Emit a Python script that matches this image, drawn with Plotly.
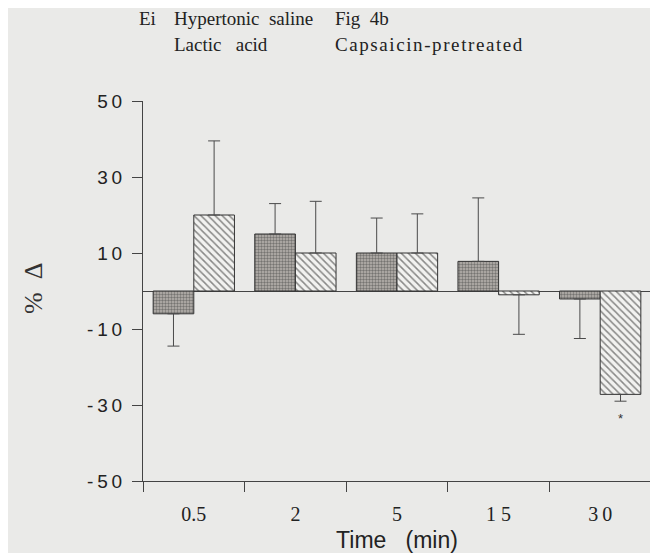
import plotly.graph_objects as go

categories = ["0.5", "2", "5", "15", "30"]
lactic_mean = [-6.0, 15.0, 10.0, 7.8, -2.1]
lactic_err = [8.5, 8.0, 9.2, 16.7, 10.4]
capsaicin_mean = [20.0, 10.0, 10.0, -1.0, -27.2]
capsaicin_err = [19.5, 13.6, 10.3, 10.4, 1.8]
y_ticks = [50, 30, 10, -10, -30, -50]
y_ticktext = ["5\u20090", "3\u20090", "1\u20090", "-\u20091\u20090", "-\u20093\u20090", "-\u20095\u20090"]
x_ticktext = ["0.5", "2", "5", "1\u00a05", "3\u20090"]

def split_err(means, errs):
    up = [e if m >= 0 else 0 for m, e in zip(means, errs)]
    down = [e if m < 0 else 0 for m, e in zip(means, errs)]
    return up, down

l_up, l_down = split_err(lactic_mean, lactic_err)
c_up, c_down = split_err(capsaicin_mean, capsaicin_err)

err_style = dict(type="data", symmetric=False, color="#4a4a4a", thickness=1, width=6)

fig = go.Figure()
fig.add_trace(go.Bar(
    x=categories, y=lactic_mean, name="Lactic acid",
    marker=dict(color="#9d9a97", line=dict(color="#333333", width=1),
                pattern=dict(shape=".", size=3, solidity=0.5, fgcolor="#333333", bgcolor="#b9b5b0")),
    error_y=dict(array=l_up, arrayminus=l_down, **err_style),
))
fig.add_trace(go.Bar(
    x=categories, y=capsaicin_mean, name="Capsaicin-pretreated",
    marker=dict(color="#f0f0f0", line=dict(color="#333333", width=1),
                pattern=dict(shape="\\", size=5, solidity=0.3, fgcolor="#1e1e1e", bgcolor="#f2f2f0")),
    error_y=dict(array=c_up, arrayminus=c_down, **err_style),
))

# page offset of 8px (default body margin) is compensated here
W, H = 650, 545
L, R, T, B = 135, 7, 93, 72
PL, PB = 143, 480          # plot left / bottom in page pixels
pw, ph = W - L - R, H - T - B

def px(x):
    return (x - PL) / pw

def py(y):
    return (PB - y) / ph

serif = "Liberation Serif, Times New Roman, serif"
sans = "Liberation Sans, Arial, sans-serif"

annotations = [
    dict(x=px(137), y=py(17), text="Ei", xanchor="left", font=dict(family=serif, size=19, color="#222")),
    dict(x=px(172), y=py(17), text="Hypertonic&nbsp;&nbsp;saline", xanchor="left", font=dict(family=serif, size=19, color="#222")),
    dict(x=px(333), y=py(17), text="Fig&nbsp;&nbsp;4b", xanchor="left", font=dict(family=serif, size=19, color="#222")),
    dict(x=px(172), y=py(43), text="Lactic&nbsp;&nbsp;&nbsp;acid", xanchor="left", font=dict(family=serif, size=19, color="#222")),
    dict(x=px(333), y=py(43), text="C\u200aa\u200ap\u200as\u200aa\u200ai\u200ac\u200ai\u200an\u200a-\u200ap\u200ar\u200ae\u200at\u200ar\u200ae\u200aa\u200at\u200ae\u200ad", xanchor="left", font=dict(family=serif, size=19, color="#222")),
    dict(x=px(33), y=py(288), text="%&nbsp;&nbsp;Δ", textangle=-90, xanchor="center", font=dict(family=serif, size=26, color="#333")),
    dict(x=4, y=-33.5, text="*", xshift=20.5, xref="x", yref="y",
         font=dict(family=sans, size=13, color="#333")),
]
for a in annotations:
    a.setdefault("xref", "paper")
    a.setdefault("yref", "paper")
    a["showarrow"] = False
    a.setdefault("yanchor", "middle")

fig.update_layout(
    width=W, height=H,
    margin=dict(l=L, r=R, t=T, b=B),
    paper_bgcolor="#eaeae8", plot_bgcolor="#eaeae8",
    barmode="group", bargap=0.2, bargroupgap=0,
    showlegend=False,
    annotations=annotations,
    xaxis=dict(
        type="category", range=[-0.5, 4.5], tickmode="array", tickvals=categories, ticktext=x_ticktext,
        tickson="boundaries", ticks="outside", ticklen=10, tickcolor="#444",
        showline=True, linecolor="#444", linewidth=1, showgrid=False, zeroline=False,
        tickfont=dict(family=serif, size=20, color="#222"), tickangle=0, ticklabelstandoff=15,
        title=dict(text="Time&nbsp;&nbsp;&nbsp;(min)", font=dict(family=sans, size=23, color="#222"), standoff=8),
        automargin=False,
    ),
    yaxis=dict(
        range=[-50, 50], tickmode="array", tickvals=y_ticks, ticktext=y_ticktext,
        ticks="outside", ticklen=10, tickcolor="#444",
        showline=True, linecolor="#444", linewidth=1, showgrid=False,
        zeroline=True, zerolinecolor="#444", zerolinewidth=1,
        tickfont=dict(family=sans, size=19, color="#222"), ticklabelstandoff=6,
        automargin=False,
    ),
)

fig.write_html("out.html")
